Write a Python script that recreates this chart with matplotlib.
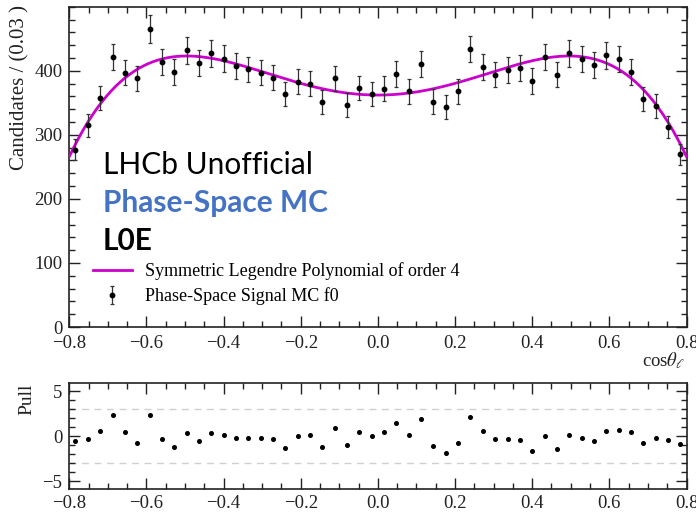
import numpy as np
import matplotlib
matplotlib.use("Agg")
import matplotlib.pyplot as plt
from matplotlib.ticker import MultipleLocator, FixedLocator
from numpy.polynomial import legendre as L

# ---------------- data ----------------
bin_edges = np.linspace(-0.8, 0.8, 51)
counts = [277, 315, 358, 422, 397, 388, 465, 413, 398, 432,
          412, 427, 419, 407, 402, 397, 389, 364, 383, 380,
          351, 388, 346, 373, 364, 372, 395, 368, 410, 352,
          343, 368, 434, 406, 394, 401, 404, 384, 422, 394,
          427, 418, 409, 424, 418, 398, 356, 345, 312, 270]
pulls = [-0.48, -0.26, 0.56, 2.40, 0.44, -0.70, 2.37, -0.30, -1.22, 0.41,
         -0.56, 0.33, 0.11, -0.22, -0.19, -0.15, -0.26, -1.26, 0.00, 0.15,
         -1.15, 0.93, -1.00, 0.48, 0.04, 0.48, 1.52, 0.15, 1.93, -1.07,
         -1.81, -0.74, 2.15, 0.56, -0.30, -0.26, -0.37, -1.59, 0.07, -1.41,
         0.15, -0.22, -0.48, 0.56, 0.74, 0.44, -0.70, -0.15, -0.44, -0.85]
# symmetric Legendre polynomial coefficients (P0, P1, P2, P3, P4)
legendre_coeffs = [325.5, 0.0, -246.3, 0.0, -230.9]

x_ticklabels = ["\u22120.8", "\u22120.6", "\u22120.4", "\u22120.2", "0.0", "0.2", "0.4", "0.6", "0.8"]
x_ticks = [-0.8, -0.6, -0.4, -0.2, 0.0, 0.2, 0.4, 0.6, 0.8]
y_ticks = [0, 100, 200, 300, 400]
pull_ticks = [-5, 0, 5]

centers = 0.5 * (bin_edges[:-1] + bin_edges[1:])
counts = np.array(counts, dtype=float)
errors = np.sqrt(counts)

plt.rcParams['font.family'] = ['Liberation Serif', 'DejaVu Serif']
plt.rcParams['mathtext.fontset'] = 'stix'

W, H = 696, 512
fig = plt.figure(figsize=(W / 100, H / 100), dpi=100)

def ax_rect(l, t, r, b):
    return [l / W, 1 - b / H, (r - l) / W, (b - t) / H]

ax = fig.add_axes(ax_rect(69.3, 6.7, 686.5, 327))
axp = fig.add_axes(ax_rect(69.3, 383.3, 686.5, 489.3))

TICKFS = 13.5
for a in (ax, axp):
    for s in a.spines.values():
        s.set_linewidth(1.2)
        s.set_color('#222222')
    a.tick_params(which='both', direction='in', top=True, right=True,
                  labelsize=TICKFS, colors='#222222', width=1.0)
    a.tick_params(which='major', length=8)
    a.tick_params(which='minor', length=4)
    a.set_xlim(-0.8, 0.8)
    a.xaxis.set_major_locator(FixedLocator(x_ticks))
    a.set_xticklabels(x_ticklabels)
    a.xaxis.set_minor_locator(MultipleLocator(0.05))
    a.tick_params(axis='y', pad=5)

ax.tick_params(axis='x', pad=6)
axp.tick_params(axis='x', pad=4)

# ---- top panel ----
xs = np.linspace(-0.8, 0.8, 400)
model = L.legval(xs, legendre_coeffs)
line, = ax.plot(xs, model, color='#cc00cc', lw=2.0, zorder=3)
eb = ax.errorbar(centers, counts, yerr=errors, fmt='o', color='black', ms=3.2,
                 ecolor='#333333', elinewidth=0.9, capsize=1.6, capthick=0.9, zorder=4)
ax.set_ylim(0, 500)
ax.yaxis.set_major_locator(FixedLocator(y_ticks))
ax.yaxis.set_minor_locator(MultipleLocator(20))

leg = ax.legend([line, eb], ["Symmetric Legendre Polynomial of order 4", "Phase-Space Signal MC f0"],
                loc='upper left', bbox_to_anchor=(93 / W, 1 - 262 / H), bbox_transform=fig.transFigure,
                frameon=False, fontsize=13, handlelength=2.15, handletextpad=0.75,
                borderpad=0, borderaxespad=0, labelspacing=0.42)

fig.text(103 / W, 1 - 174 / H, "LHCb Unofficial", family='Lato', fontsize=21.5,
         color='black', va='baseline', ha='left')
fig.text(103 / W, 1 - 211.7 / H, "Phase-Space MC", family='Lato', fontsize=21.5,
         fontweight='bold', color='#4472c4', va='baseline', ha='left')
fig.text(103 / W, 1 - 250 / H, "L0E", family='Lato', fontsize=21.5,
         fontweight='bold', color='black', va='baseline', ha='left')

fig.text(20 / W, 1 - 5 / H, "Candidates / (0.03 )", rotation=90, ha='center', va='top',
         fontsize=15, color='#222222')
fig.text(685 / W, 1 - 366.7 / H, r"cos$\theta_{\ell}$", ha='right', va='baseline',
         fontsize=13.5, color='#222222')

# ---- pull panel ----
axp.axhline(3, color='#d0d0d0', lw=1.0, ls=(0, (5, 4)), zorder=1)
axp.axhline(-3, color='#d0d0d0', lw=1.0, ls=(0, (5, 4)), zorder=1)
axp.plot(centers, pulls, 'o', color='black', ms=2.6, zorder=3)
axp.set_ylim(-5.9, 5.9)
axp.yaxis.set_major_locator(FixedLocator(pull_ticks))
axp.set_yticklabels(["\u22125", "0", "5"])
axp.yaxis.set_minor_locator(MultipleLocator(1))
fig.text(26.5 / W, 1 - 383.3 / H, "Pull", rotation=90, ha='center', va='top',
         fontsize=14, color='#222222')

fig.savefig("out.png", dpi=100)
